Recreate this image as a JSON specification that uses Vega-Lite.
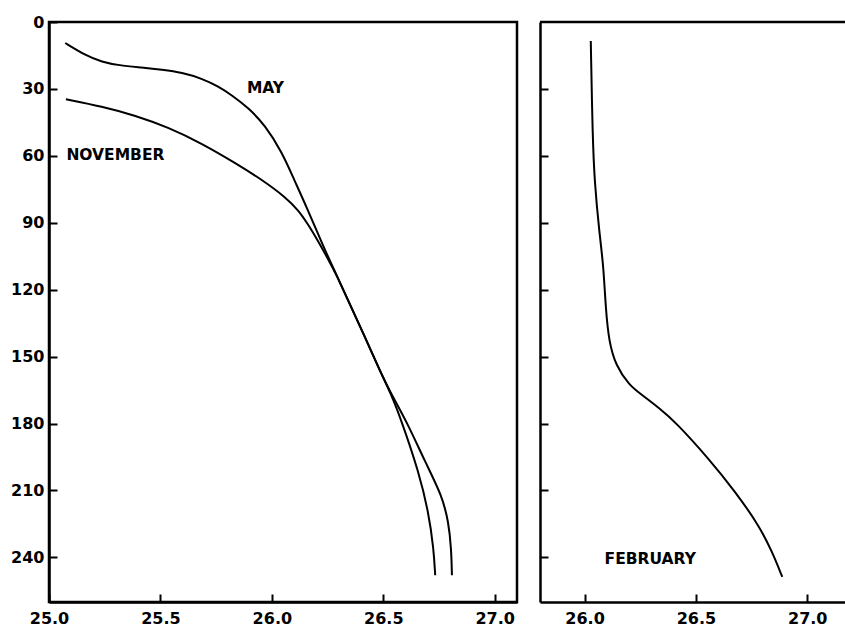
{
  "$schema": "https://vega.github.io/schema/vega-lite/v6.json",
  "background": "white",
  "padding": {"left": 9, "top": 12, "right": -7, "bottom": 0},
  "spacing": 23,
  "bounds": "flush",
  "config": {
    "font": "DejaVu Sans",
    "axis": {
      "labelFont": "DejaVu Sans",
      "labelFontWeight": "bold",
      "labelFontSize": 16,
      "labelColor": "black",
      "domainColor": "black",
      "domainWidth": 2.5,
      "tickColor": "black",
      "tickWidth": 2,
      "tickSize": -8,
      "grid": false,
      "title": null,
      "labelFlush": false,
      "labelOverlap": false
    }
  },
  "datasets": {
    "left": [
      {"month": "MAY", "x": 25.073, "depth": 9.41},
      {"month": "MAY", "x": 25.163, "depth": 14.93},
      {"month": "MAY", "x": 25.238, "depth": 17.93},
      {"month": "MAY", "x": 25.313, "depth": 19.41},
      {"month": "MAY", "x": 25.417, "depth": 20.40},
      {"month": "MAY", "x": 25.507, "depth": 21.38},
      {"month": "MAY", "x": 25.597, "depth": 22.64},
      {"month": "MAY", "x": 25.686, "depth": 25.33},
      {"month": "MAY", "x": 25.761, "depth": 28.91},
      {"month": "MAY", "x": 25.821, "depth": 32.86},
      {"month": "MAY", "x": 25.896, "depth": 38.60},
      {"month": "MAY", "x": 25.970, "depth": 46.31},
      {"month": "MAY", "x": 26.045, "depth": 58.28},
      {"month": "MAY", "x": 26.098, "depth": 70.24},
      {"month": "MAY", "x": 26.157, "depth": 83.17},
      {"month": "MAY", "x": 26.232, "depth": 100.86},
      {"month": "MAY", "x": 26.284, "depth": 112.07},
      {"month": "MAY", "x": 26.359, "depth": 128.52},
      {"month": "MAY", "x": 26.404, "depth": 138.20},
      {"month": "MAY", "x": 26.494, "depth": 158.37},
      {"month": "MAY", "x": 26.531, "depth": 165.86},
      {"month": "MAY", "x": 26.584, "depth": 179.31},
      {"month": "MAY", "x": 26.659, "depth": 201.72},
      {"month": "MAY", "x": 26.703, "depth": 219.65},
      {"month": "MAY", "x": 26.726, "depth": 236.10},
      {"month": "MAY", "x": 26.733, "depth": 248.03},
      {"month": "NOVEMBER", "x": 25.076, "depth": 34.65},
      {"month": "NOVEMBER", "x": 25.238, "depth": 37.88},
      {"month": "NOVEMBER", "x": 25.387, "depth": 41.91},
      {"month": "NOVEMBER", "x": 25.537, "depth": 47.29},
      {"month": "NOVEMBER", "x": 25.686, "depth": 54.46},
      {"month": "NOVEMBER", "x": 25.836, "depth": 63.21},
      {"month": "NOVEMBER", "x": 25.960, "depth": 71.0},
      {"month": "NOVEMBER", "x": 26.060, "depth": 78.45},
      {"month": "NOVEMBER", "x": 26.120, "depth": 84.41},
      {"month": "NOVEMBER", "x": 26.165, "depth": 91.13},
      {"month": "NOVEMBER", "x": 26.210, "depth": 98.62},
      {"month": "NOVEMBER", "x": 26.255, "depth": 106.82},
      {"month": "NOVEMBER", "x": 26.284, "depth": 112.07},
      {"month": "NOVEMBER", "x": 26.359, "depth": 128.52},
      {"month": "NOVEMBER", "x": 26.404, "depth": 138.20},
      {"month": "NOVEMBER", "x": 26.494, "depth": 158.37},
      {"month": "NOVEMBER", "x": 26.531, "depth": 165.86},
      {"month": "NOVEMBER", "x": 26.606, "depth": 179.31},
      {"month": "NOVEMBER", "x": 26.688, "depth": 197.24},
      {"month": "NOVEMBER", "x": 26.763, "depth": 212.16},
      {"month": "NOVEMBER", "x": 26.793, "depth": 224.13},
      {"month": "NOVEMBER", "x": 26.805, "depth": 236.10},
      {"month": "NOVEMBER", "x": 26.808, "depth": 248.03}
    ],
    "right": [
      {"month": "FEBRUARY", "x": 26.028, "depth": 8.52},
      {"month": "FEBRUARY", "x": 26.036, "depth": 50.79},
      {"month": "FEBRUARY", "x": 26.045, "depth": 71.72},
      {"month": "FEBRUARY", "x": 26.066, "depth": 94.14},
      {"month": "FEBRUARY", "x": 26.085, "depth": 109.07},
      {"month": "FEBRUARY", "x": 26.095, "depth": 128.52},
      {"month": "FEBRUARY", "x": 26.110, "depth": 143.45},
      {"month": "FEBRUARY", "x": 26.140, "depth": 153.89},
      {"month": "FEBRUARY", "x": 26.200, "depth": 162.86},
      {"month": "FEBRUARY", "x": 26.260, "depth": 167.34},
      {"month": "FEBRUARY", "x": 26.335, "depth": 173.03},
      {"month": "FEBRUARY", "x": 26.409, "depth": 179.31},
      {"month": "FEBRUARY", "x": 26.559, "depth": 195.89},
      {"month": "FEBRUARY", "x": 26.678, "depth": 210.69},
      {"month": "FEBRUARY", "x": 26.783, "depth": 225.62},
      {"month": "FEBRUARY", "x": 26.843, "depth": 237.58},
      {"month": "FEBRUARY", "x": 26.888, "depth": 248.79}
    ],
    "labelsLeft": [
      {"label": "MAY", "x": 25.888, "depth": 29.6},
      {"label": "NOVEMBER", "x": 25.078, "depth": 59.4}
    ],
    "labelsRight": [
      {"label": "FEBRUARY", "x": 26.09, "depth": 240.8}
    ]
  },
  "hconcat": [
    {
      "width": 468,
      "height": 580,
      "view": {"stroke": "black", "strokeWidth": 2.5},
      "layer": [
        {
          "data": {"name": "left"},
          "mark": {"type": "line", "interpolate": "basis", "color": "black", "strokeWidth": 2},
          "encoding": {
            "x": {"field": "x", "type": "quantitative",
                  "scale": {"domain": [25.0, 27.1], "nice": false, "zero": false},
                  "axis": {"values": [25.0, 25.5, 26.0, 26.5, 27.0], "format": ".1f", "labelPadding": 16}},
            "y": {"field": "depth", "type": "quantitative",
                  "scale": {"domain": [0, 260], "reverse": true, "nice": false, "zero": false},
                  "axis": {"values": [0, 30, 60, 90, 120, 150, 180, 210, 240], "labelPadding": 13}},
            "detail": {"field": "month"},
            "order": {"field": "depth", "type": "quantitative"}
          }
        },
        {
          "data": {"name": "labelsLeft"},
          "mark": {"type": "text", "align": "left", "baseline": "middle", "font": "DejaVu Sans", "fontWeight": "bold", "fontSize": 15.5, "color": "black"},
          "encoding": {
            "x": {"field": "x", "type": "quantitative"},
            "y": {"field": "depth", "type": "quantitative"},
            "text": {"field": "label"}
          }
        }
      ]
    },
    {
      "width": 314,
      "height": 580,
      "view": {"stroke": null},
      "resolve": {"axis": {"y": "independent"}},
      "layer": [
        {
          "data": {"name": "right"},
          "mark": {"type": "line", "interpolate": "basis", "color": "black", "strokeWidth": 2},
          "encoding": {
            "x": {"field": "x", "type": "quantitative",
                  "scale": {"domain": [25.8, 27.21], "nice": false, "zero": false},
                  "axis": {"values": [26.0, 26.5, 27.0], "format": ".1f", "labelPadding": 16}},
            "y": {"field": "depth", "type": "quantitative",
                  "scale": {"domain": [0, 260], "reverse": true, "nice": false, "zero": false},
                  "axis": {"values": [30, 60, 90, 120, 150, 180, 210, 240], "labels": false}},
            "order": {"field": "depth", "type": "quantitative"}
          }
        },
        {
          "data": {"values": [{}]},
          "mark": {"type": "rule", "color": "black", "strokeWidth": 2.5},
          "encoding": {
            "y": {"datum": 0, "type": "quantitative",
                  "axis": {"orient": "right", "values": [30, 60, 90, 120, 150, 180, 210, 240], "labels": false, "domain": false}}
          }
        },
        {
          "data": {"name": "labelsRight"},
          "mark": {"type": "text", "align": "left", "baseline": "middle", "font": "DejaVu Sans", "fontWeight": "bold", "fontSize": 15.5, "color": "black"},
          "encoding": {
            "x": {"field": "x", "type": "quantitative"},
            "y": {"field": "depth", "type": "quantitative", "axis": null},
            "text": {"field": "label"}
          }
        }
      ]
    }
  ]
}
